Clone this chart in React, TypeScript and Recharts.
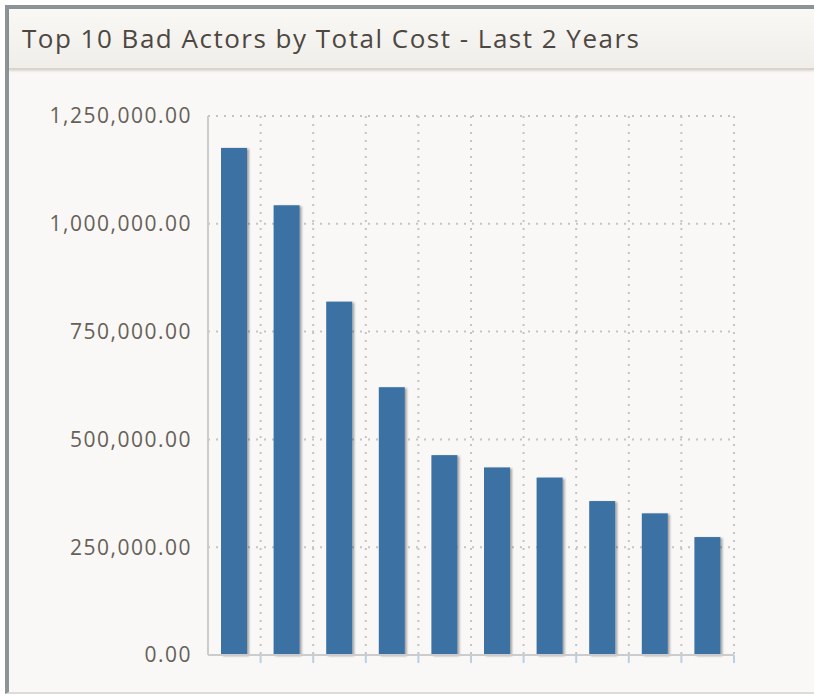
import React from "react";
import { BarChart, Bar, XAxis, YAxis, CartesianGrid } from "recharts";

const chartTitle = "Top 10 Bad Actors by Total Cost - Last 2 Years";
const ranks = [1, 2, 3, 4, 5, 6, 7, 8, 9, 10];
const totalCost = [1176000, 1043000, 819500, 621000, 463500, 435000, 411500, 357000, 328500, 273500];
const yTicks = [0, 250000, 500000, 750000, 1000000, 1250000];
const xTicks = [1, 2, 3, 4, 5, 6, 7, 8, 9, 10];

const data = ranks.map((r, i) => ({ pos: r - 0.5, rank: r, cost: totalCost[i] }));

const fmt = (v: number) =>
  v.toLocaleString("en-US", { minimumFractionDigits: 2, maximumFractionDigits: 2 });

const ShadowBar = (props: any) => {
  const { x, y, width, height } = props;
  if (height <= 0) return null;
  return (
    <rect x={x} y={y} width={width} height={height} fill="#3b71a3" filter="url(#barShadow)" />
  );
};

const EmptyTick = () => <g />;

export default function App() {
  return (
    <div
      style={{
        position: "absolute",
        left: 0,
        top: 0,
        width: 814,
        height: 696,
        background: "#ffffff",
        overflow: "hidden",
      }}
    >
      <div
        style={{
          position: "absolute",
          left: 5,
          top: 5,
          width: 809,
          height: 689,
          borderTop: "4px solid #8d9497",
          borderLeft: "4px solid #8d9497",
          borderBottom: "2px solid #dcdcdc",
          background: "#f9f8f6",
          boxSizing: "border-box",
        }}
      />
      <div
        style={{
          position: "absolute",
          left: 9,
          top: 9,
          width: 805,
          height: 61,
          background: "linear-gradient(#f9f8f5, #f0eee9)",
          borderBottom: "2px solid #d9d4cd",
          boxShadow: "0 1px 2px rgba(0,0,0,0.12)",
          boxSizing: "border-box",
        }}
      />
      <div
        style={{
          position: "absolute",
          left: 22,
          top: 21,
          fontFamily: "'Open Sans', sans-serif",
          fontSize: 26,
          letterSpacing: 1.5,
          lineHeight: "34px",
          color: "#4d4741",
          whiteSpace: "nowrap",
        }}
      >
        {chartTitle}
      </div>
      <div style={{ position: "absolute", left: 0, top: 0 }}>
        <BarChart
          width={814}
          height={696}
          data={data}
          margin={{ top: 116, right: 80, bottom: 31, left: 8 }}
        >
          <defs>
            <filter id="barShadow" x="-20%" y="-5%" width="150%" height="115%">
              <feDropShadow dx="2" dy="1" stdDeviation="1.3" floodColor="#000" floodOpacity="0.35" />
            </filter>
          </defs>
          <CartesianGrid
            stroke="#c4c4c4"
            strokeWidth={2}
            strokeDasharray="2 6"
            horizontal={true}
            vertical={true}
          />
          <XAxis
            dataKey="pos"
            type="number"
            domain={[0, 10]}
            ticks={xTicks}
            tick={<EmptyTick />}
            height={10}
            tickSize={8}
            axisLine={{ stroke: "#cccccc", strokeWidth: 2 }}
            tickLine={{ stroke: "#b9cfe3", strokeWidth: 2 }}
            allowDataOverflow
          />
          <YAxis
            width={200}
            domain={[0, 1250000]}
            ticks={yTicks}
            tickFormatter={fmt}
            tickSize={0}
            tickMargin={16}
            tickLine={false}
            axisLine={{ stroke: "#cccccc", strokeWidth: 2 }}
            tick={{
              fill: "#666058",
              fontSize: 21,
              fontFamily: "'Open Sans', sans-serif",
              letterSpacing: 1.5,
            }}
          />
          <Bar dataKey="cost" barSize={26} shape={ShadowBar} isAnimationActive={false} />
        </BarChart>
      </div>
    </div>
  );
}
